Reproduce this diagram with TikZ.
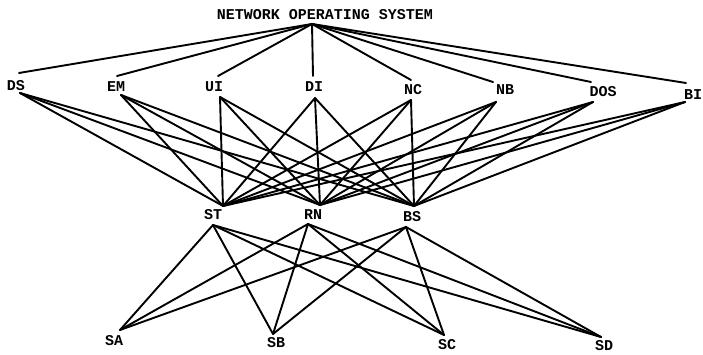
\documentclass[tikz,border=0pt]{standalone}
\usepackage{fontspec}
\setmonofont{Liberation Mono}
\begin{document}
\begin{tikzpicture}[x=1pt,y=-1pt,
  lbl/.style={font=\ttfamily\bfseries\fontsize{15}{15}\selectfont, inner sep=0pt},
  edge/.style={line width=1.9pt, line cap=round}]
\useasboundingbox[fill=white] (0,0) rectangle (703,355);
% labels
\node[lbl] (NOS) at (325,15) {NETWORK OPERATING SYSTEM};
\node[lbl] (DS) at (16,86) {DS};
\node[lbl] (EM) at (116,87) {EM};
\node[lbl] (UI) at (214,87) {UI};
\node[lbl] (DI) at (314,87) {DI};
\node[lbl] (NC) at (413,90) {NC};
\node[lbl] (NB) at (505,90) {NB};
\node[lbl] (DOS) at (603,92) {DOS};
\node[lbl] (BI) at (693,95) {BI};
\node[lbl] (ST) at (213,215) {ST};
\node[lbl] (RN) at (313,215) {RN};
\node[lbl] (BS) at (412,217) {BS};
\node[lbl] (SA) at (114,341) {SA};
\node[lbl] (SB) at (276,343) {SB};
\node[lbl] (SC) at (447,345) {SC};
\node[lbl] (SD) at (604,346) {SD};
% connection points
\coordinate (NOS-b) at (312,24);
\coordinate (DS-t) at (19,73);   \coordinate (DS-b) at (20,93);
\coordinate (EM-t) at (117,76);  \coordinate (EM-b) at (121,95);
\coordinate (UI-t) at (218,76);  \coordinate (UI-b) at (220,97);
\coordinate (DI-t) at (313,76);  \coordinate (DI-b) at (315,98);
\coordinate (NC-t) at (411,80);  \coordinate (NC-b) at (411,100);
\coordinate (NB-t) at (493,82);  \coordinate (NB-b) at (496,102);
\coordinate (DOS-t) at (591,82); \coordinate (DOS-b) at (593,102);
\coordinate (BI-t) at (686,83);  \coordinate (BI-b) at (685,102);
\coordinate (ST-t) at (223,206); \coordinate (ST-b) at (213,225);
\coordinate (RN-t) at (320,205); \coordinate (RN-b) at (308,224);
\coordinate (BS-t) at (414,206); \coordinate (BS-b) at (406,227);
\coordinate (SA-t) at (120,330);
\coordinate (SB-t) at (273,334);
\coordinate (SC-t) at (444,335);
\coordinate (SD-t) at (601,337);
% connectors
\foreach \m in {DS,EM,UI,DI,NC,NB,DOS,BI}{
  \draw[edge] (NOS-b) -- (\m-t);
  \foreach \s in {ST,RN,BS}{
    \draw[edge] (\m-b) -- (\s-t);
  }
}
\foreach \s in {ST,RN,BS}{
  \foreach \l in {SA,SB,SC,SD}{
    \draw[edge] (\s-b) -- (\l-t);
  }
}
\end{tikzpicture}
\end{document}
